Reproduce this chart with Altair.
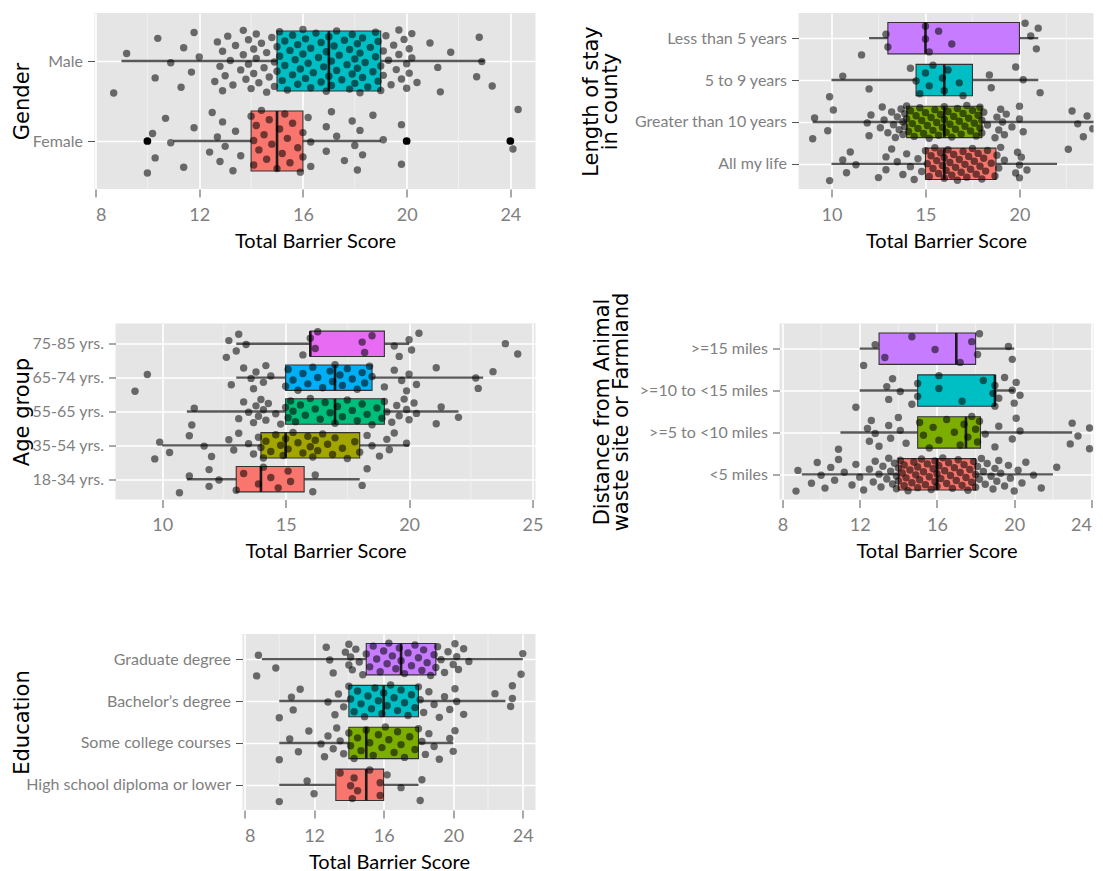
import json
import altair as alt
import pandas as pd

LABEL_FONT = "Lato"
TITLE_FONT = "DejaVu Sans"

HUE2 = ["#F8766D", "#00BFC4"]
HUE4 = ["#F8766D", "#7CAE00", "#00BFC4", "#C77CFF"]
HUE5 = ["#F8766D", "#A3A500", "#00BF7D", "#00B0F6", "#E76BF3"]

# ---------------- Gender ----------------
gender_cats = ["Female", "Male"]
gender_q1 = [14, 15]
gender_med = [15, 17]
gender_q3 = [16, 19]
gender_lo = [11, 9]
gender_hi = [19, 23]
gender_outliers = [10, 20, 24]
gender_female = [10.0, 10.2, 10.3, 10.7, 10.9, 11.4, 11.8, 12.4, 12.5, 12.7, 12.8, 12.9, 13.0,
                 13.3, 13.4, 13.6, 14.0, 14.1, 14.1, 14.2, 14.3, 14.4, 14.5, 14.6, 14.7, 14.8,
                 15.0, 15.1, 15.2, 15.3, 15.4, 15.5, 15.6, 15.8, 15.9, 16.0, 16.0, 16.2, 16.3,
                 16.3, 16.9, 16.9, 17.1, 17.3, 17.6, 17.9, 18.0, 18.1, 18.2, 18.3, 18.7, 19.1,
                 19.8, 19.8, 24.1, 24.3]
gender_male = [8.7, 9.2, 10.3, 10.4, 10.9, 11.3, 11.4, 11.7, 11.8, 12.0, 12.6, 12.7, 12.8, 12.9,
               12.9, 13.0, 13.1, 13.2, 13.3, 13.4, 13.6, 13.7, 13.7, 13.8, 13.9, 13.9, 14.0, 14.1,
               14.1, 14.2, 14.2, 14.3, 14.4, 14.5, 14.6, 14.6, 14.7, 14.8, 14.9, 14.9, 15.0, 15.0,
               15.1, 15.1, 15.2, 15.3, 15.3, 15.4, 15.5, 15.6, 15.6, 15.7, 15.8, 15.8, 15.9, 16.0,
               16.0, 16.1, 16.1, 16.2, 16.3, 16.3, 16.4, 16.5, 16.6, 16.7, 16.7, 16.8, 16.9, 16.9,
               17.0, 17.0, 17.1, 17.1, 17.2, 17.3, 17.3, 17.4, 17.5, 17.6, 17.7, 17.8, 17.8, 17.9,
               17.9, 18.0, 18.0, 18.1, 18.1, 18.2, 18.2, 18.3, 18.3, 18.4, 18.5, 18.6, 18.7, 18.8,
               18.8, 18.9, 18.9, 19.0, 19.0, 19.1, 19.1, 19.2, 19.3, 19.4, 19.5, 19.6, 19.7, 19.7,
               19.8, 19.9, 20.0, 20.0, 20.1, 20.1, 20.2, 20.2, 20.4, 20.9, 21.2, 21.3, 21.7, 22.7,
               22.8, 22.9, 23.3]

# ---------------- Length of stay ----------------
stay_cats = ["All my life", "Greater than 10 years", "5 to 9 years", "Less than 5 years"]
stay_q1 = [15, 14, 14.5, 13]
stay_med = [16, 16, 16, 15]
stay_q3 = [18.75, 18, 17.5, 20]
stay_lo = [10, 9, 10, 12]
stay_hi = [22, 24, 21, 21]
stay_life = [9.9, 10.6, 10.8, 11.0, 11.3, 12.5, 12.9, 12.9, 13.2, 13.5, 13.8, 14.0, 14.2, 14.4,
             14.6, 14.8, 15.0, 15.1, 15.2, 15.3, 15.4, 15.5, 15.6, 15.7, 15.8, 15.9, 16.0, 16.0,
             16.1, 16.2, 16.3, 16.4, 16.5, 16.6, 16.7, 16.8, 16.9, 17.0, 17.1, 17.2, 17.3, 17.4,
             17.5, 17.6, 17.7, 17.8, 17.9, 18.0, 18.1, 18.2, 18.3, 18.5, 18.7, 18.8, 18.9, 19.0,
             19.2, 19.8, 19.9, 20.0, 20.0, 20.1, 20.4, 22.6]
stay_gt10 = [9.0, 9.1, 9.8, 10.1, 11.9, 12.0, 12.1, 12.6, 12.7, 12.8, 13.0, 13.2, 13.3, 13.4, 13.5,
             13.6, 13.7, 13.8, 13.8, 13.9, 13.9, 14.0, 14.0, 14.1, 14.2, 14.3, 14.4, 14.5, 14.6,
             14.7, 14.8, 14.9, 15.0, 15.1, 15.2, 15.3, 15.4, 15.5, 15.6, 15.7, 15.8, 15.9, 16.0,
             16.0, 16.1, 16.2, 16.3, 16.4, 16.5, 16.6, 16.7, 16.8, 16.9, 17.0, 17.1, 17.2, 17.3,
             17.4, 17.5, 17.6, 17.7, 17.8, 17.9, 17.9, 18.0, 18.0, 18.1, 18.3, 18.7, 18.8, 18.9,
             19.0, 19.1, 19.2, 19.3, 19.6, 20.0, 20.0, 20.2, 22.8, 23.1, 23.4, 23.6, 23.9, 24.4]
stay_5to9 = [9.9, 10.6, 12.0, 14.2, 14.5, 14.7, 15.0, 15.2, 15.4, 15.9, 16.0, 16.2, 16.8, 17.0,
             18.4, 18.5, 19.8, 20.2, 21.1]
stay_lt5 = [11.6, 12.9, 13.0, 15.0, 15.0, 15.2, 15.7, 16.4, 20.3, 20.6, 20.9, 21.0]

# ---------------- Age group ----------------
age_cats = ["18-34 yrs.", "35-54 yrs.", "55-65 yrs.", "65-74 yrs.", "75-85 yrs."]
age_q1 = [13, 14, 15, 15, 16]
age_med = [14, 15, 17, 17, 16]
age_q3 = [15.75, 18, 19, 18.5, 19]
age_lo = [11, 10, 11, 13, 13]
age_hi = [18, 20, 22, 23, 20]
age_18 = [10.7, 11.1, 11.9, 11.9, 12.3, 13.0, 13.3, 13.9, 14.1, 14.4, 14.7, 15.1, 15.2, 16.1,
          16.2, 18.1, 18.3]
age_35 = [9.7, 9.9, 10.3, 11.1, 11.7, 12.0, 12.7, 12.9, 13.1, 13.5, 13.7, 13.9, 14.0, 14.1, 14.2,
          14.4, 14.6, 14.8, 14.9, 15.0, 15.1, 15.3, 15.5, 15.7, 15.9, 16.0, 16.1, 16.2, 16.3,
          16.5, 16.7, 16.9, 17.0, 17.3, 17.5, 17.8, 18.0, 18.3, 18.5, 18.8, 19.1, 19.2, 19.4, 19.9]
age_55 = [11.2, 11.3, 13.1, 13.3, 13.5, 13.7, 13.8, 13.9, 14.0, 14.1, 14.2, 14.3, 14.6, 14.8,
          15.0, 15.1, 15.2, 15.3, 15.4, 15.6, 15.8, 16.0, 16.2, 16.4, 16.6, 16.8, 17.0, 17.1,
          17.3, 17.5, 17.7, 17.9, 18.1, 18.3, 18.5, 18.7, 18.9, 19.0, 19.1, 19.3, 19.5, 19.6,
          19.8, 19.9, 20.0, 20.2, 20.3, 21.1, 21.3, 22.0]
age_65 = [8.9, 9.4, 12.8, 13.3, 13.6, 13.7, 13.8, 14.1, 14.2, 14.4, 15.0, 15.1, 15.3, 15.5, 15.7,
          15.9, 16.1, 16.3, 16.5, 16.8, 16.9, 17.0, 17.2, 17.3, 17.5, 17.7, 17.9, 18.1, 18.2,
          18.4, 18.5, 19.0, 19.4, 19.7, 19.9, 20.0, 20.3, 21.1, 22.7, 22.8, 23.4]
age_75 = [12.6, 12.7, 13.0, 13.1, 13.4, 15.7, 16.0, 16.2, 16.3, 18.1, 18.2, 18.5, 19.4, 19.6,
          20.0, 20.1, 20.4, 23.9, 24.4]

# ---------------- Distance ----------------
dist_cats = ["<5 miles", ">=5 to <10 miles", ">=10 to <15 miles", ">=15 miles"]
dist_q1 = [14, 15, 15, 13]
dist_med = [16, 17.5, 19, 17]
dist_q3 = [18, 18.25, 19, 18]
dist_lo = [9, 11, 12, 12]
dist_hi = [22, 23, 20, 20]
dist_lt5 = [8.7, 8.8, 9.5, 9.8, 10.0, 10.2, 10.5, 10.7, 10.9, 11.2, 11.6, 11.8, 12.0, 12.2, 12.5,
            12.7, 12.8, 13.0, 13.1, 13.2, 13.4, 13.5, 13.6, 13.7, 13.8, 13.9, 13.9, 14.0, 14.0,
            14.1, 14.2, 14.3, 14.3, 14.4, 14.5, 14.6, 14.7, 14.8, 14.9, 15.0, 15.0, 15.1, 15.2,
            15.3, 15.4, 15.5, 15.6, 15.7, 15.8, 15.9, 15.9, 16.0, 16.0, 16.1, 16.2, 16.3, 16.4,
            16.5, 16.6, 16.7, 16.8, 16.9, 17.0, 17.1, 17.2, 17.3, 17.4, 17.5, 17.6, 17.7, 17.8,
            17.9, 18.0, 18.0, 18.1, 18.2, 18.3, 18.4, 18.5, 18.6, 18.8, 18.9, 19.0, 19.1, 19.2,
            19.3, 19.5, 19.7, 19.8, 20.0, 20.2, 20.4, 20.6, 21.0, 21.4, 22.2]
dist_5to10 = [10.9, 12.4, 12.5, 12.6, 12.8, 13.0, 13.5, 13.6, 14.0, 14.1, 14.4, 15.1, 15.3, 15.6,
              15.8, 16.1, 16.5, 16.9, 17.2, 17.4, 17.6, 17.8, 18.0, 18.1, 18.2, 18.5, 19.0, 19.2,
              19.9, 20.1, 20.3, 22.9, 23.0, 23.3, 23.9, 23.9]
dist_10to15 = [11.8, 13.4, 13.5, 13.7, 14.1, 14.7, 15.0, 15.0, 16.1, 16.1, 17.3, 18.4, 18.9, 19.0,
               19.0, 19.2, 19.5, 19.9, 20.0, 20.1, 20.3]
dist_ge15 = [12.2, 12.8, 13.3, 14.7, 15.9, 17.2, 17.8, 18.1, 18.2, 19.7, 19.9]

# ---------------- Education ----------------
edu_cats = ["High school diploma or lower", "Some college courses", "Bachelor\u2019s degree",
            "Graduate degree"]
edu_q1 = [13.25, 14, 14, 15]
edu_med = [15, 15, 16, 17]
edu_q3 = [16, 18, 18, 19]
edu_lo = [10, 10, 10, 9]
edu_hi = [18, 20, 23, 24]
edu_hs = [10.0, 11.6, 12.0, 13.5, 14.1, 14.2, 14.3, 14.5, 15.2, 15.8, 15.8, 16.2, 17.0, 18.1, 18.2]
edu_college = [10.0, 10.6, 11.1, 11.7, 12.4, 12.6, 12.8, 13.1, 13.3, 13.5, 13.7, 14.0, 14.1, 14.3,
               14.5, 14.7, 15.0, 15.2, 15.4, 15.7, 15.9, 16.1, 16.3, 16.6, 16.8, 17.0, 17.2, 17.5,
               17.8, 18.0, 18.2, 18.4, 18.6, 18.9, 19.2, 19.8, 20.0, 20.1]
edu_bach = [10.0, 10.7, 10.8, 11.2, 12.8, 13.2, 13.4, 13.7, 14.0, 14.1, 14.3, 14.5, 14.7, 14.9,
            15.1, 15.3, 15.5, 15.7, 15.9, 16.0, 16.2, 16.4, 16.6, 16.8, 17.0, 17.2, 17.4, 17.6,
            17.8, 18.0, 18.1, 18.3, 18.6, 18.9, 19.2, 19.5, 19.8, 20.1, 20.2, 20.6, 22.4, 23.3,
            23.4, 23.4]
edu_grad = [8.7, 8.8, 9.8, 12.7, 12.9, 13.1, 13.8, 14.0, 14.0, 14.1, 14.2, 14.4, 14.6, 14.8, 15.0,
            15.2, 15.4, 15.6, 15.8, 16.0, 16.2, 16.3, 16.5, 16.7, 16.9, 17.0, 17.2, 17.4, 17.6,
            17.8, 18.0, 18.2, 18.3, 18.5, 18.7, 18.9, 19.0, 19.1, 19.3, 19.5, 19.7, 20.0, 20.1,
            20.2, 20.3, 20.6, 20.9, 23.9, 24.0]

XTITLE = "Total Barrier Score"
H = 176
YT_SIZE = 21


def panel(cats, q1, med, q3, lo, hi, points, palette, xdom, xticks, xminor, width,
          ytitle, title_x, outliers=None):
    n = len(cats)
    box = pd.DataFrame({"idx": list(range(n)), "q1": q1, "med": med, "q3": q3,
                        "lo": lo, "hi": hi, "fill": palette[:n]})
    rows = []
    for i, vals in enumerate(points):
        for k, v in enumerate(vals):
            rows.append({"idx": i, "k": k, "x": v})
    pts = pd.DataFrame(rows)

    xs = alt.Scale(domain=xdom, nice=False, zero=False)
    ys = alt.Scale(domain=[-0.6, n - 0.4], nice=False, zero=False)
    xax = alt.Axis(values=xticks, format="d", title=XTITLE, grid=True, gridColor="white",
                   gridWidth=1.6, domain=False, tickSize=8, tickColor="#555555", tickWidth=1,
                   labelPadding=9, labelFont=LABEL_FONT, labelFontSize=18, labelFlush=2.5,
                   labelColor="#7F7F7F", titleFont=LABEL_FONT, titleFontSize=20,
                   titleFontWeight="normal", titleColor="black", titlePadding=7)
    yax = alt.Axis(values=list(range(n)),
                   labelExpr=json.dumps(cats, ensure_ascii=False) + "[datum.value]",
                   labelLimit=400,
                   title=ytitle, titleX=title_x, titleY=H / 2, titleAngle=270,
                   titleAlign="center", titleBaseline="bottom", titleFont=TITLE_FONT,
                   titleFontSize=YT_SIZE, titleFontWeight="normal", titleColor="black",
                   titleLineHeight=19, grid=True, gridColor="white", gridWidth=1.6,
                   domain=False, tickSize=7, tickColor="#555555", labelPadding=5,
                   labelFont=LABEL_FONT, labelFontSize=16, labelColor="#7F7F7F")

    minor = alt.Chart(pd.DataFrame({"m": xminor})).mark_rule(
        color="#F2F2F2", strokeWidth=0.9).encode(x=alt.X("m:Q", scale=xs, axis=xax))
    whisk = alt.Chart(box).mark_rule(color="#595959", strokeWidth=2.4, clip=True).encode(
        x=alt.X("lo:Q", scale=xs, axis=xax), x2="hi:Q",
        y=alt.Y("idx:Q", scale=ys, axis=yax))
    rect = alt.Chart(box).transform_calculate(
        ylo="datum.idx - 0.375", yhi="datum.idx + 0.375").mark_rect(
        stroke="#333333", strokeWidth=1.1).encode(
        x=alt.X("q1:Q", scale=xs, axis=xax), x2="q3:Q",
        y=alt.Y("ylo:Q", scale=ys, axis=yax), y2="yhi:Q",
        fill=alt.Fill("fill:N", scale=None))
    medl = alt.Chart(box).transform_calculate(
        ylo="datum.idx - 0.375", yhi="datum.idx + 0.375").mark_rule(
        color="#1A1A1A", strokeWidth=2.6).encode(
        x=alt.X("med:Q", scale=xs, axis=xax),
        y=alt.Y("ylo:Q", scale=ys, axis=yax), y2="yhi:Q")
    layers = [minor, whisk, rect, medl]
    if outliers:
        odf = pd.DataFrame({"idx": [o[0] for o in outliers], "x": [o[1] for o in outliers]})
        layers.append(alt.Chart(odf).mark_circle(size=60, color="black", opacity=1).encode(
            x=alt.X("x:Q", scale=xs, axis=xax), y=alt.Y("idx:Q", scale=ys, axis=yax)))
    dots = alt.Chart(pts).transform_calculate(
        jy="datum.idx + ((datum.k * 0.618034) % 1 - 0.5) * 0.8").mark_circle(
        size=55, color="black", opacity=0.55, clip=True).encode(
        x=alt.X("x:Q", scale=xs, axis=xax), y=alt.Y("jy:Q", scale=ys, axis=yax))
    layers.append(dots)
    return alt.layer(*layers).properties(width=width, height=H)


def spacer(w):
    return alt.Chart(pd.DataFrame({"a": [0]})).mark_point(opacity=0).properties(
        width=w, height=H, view=alt.ViewBackground(fill="transparent", stroke="transparent"))


TX = 31.5  # right edge of the rotated y titles (left column), page px

p1 = panel(gender_cats, gender_q1, gender_med, gender_q3, gender_lo, gender_hi,
           [gender_female, gender_male], HUE2, [7.96, 24.97], [8, 12, 16, 20, 24],
           [10, 14, 18, 22], 441, "Gender", TX - 94,
           outliers=[(0, v) for v in gender_outliers])
p3 = panel(age_cats, age_q1, age_med, age_q3, age_lo, age_hi,
           [age_18, age_35, age_55, age_65, age_75], HUE5, [8.11, 25.12], [10, 15, 20, 25],
           [12.5, 17.5, 22.5], 420, "Age group", TX - 115)
p5 = panel(edu_cats, edu_q1, edu_med, edu_q3, edu_lo, edu_hi,
           [edu_hs, edu_college, edu_bach, edu_grad], HUE4, [7.885, 24.73],
           [8, 12, 16, 20, 24], [10, 14, 18, 22], 293, "Education", TX - 242)
p2 = panel(stay_cats, stay_q1, stay_med, stay_q3, stay_lo, stay_hi,
           [stay_life, stay_gt10, stay_5to9, stay_lt5], HUE4, [8.245, 23.94], [10, 15, 20],
           [12.5, 17.5, 22.5], 295, ["Length of stay", "in county"], 601 - 798)
p4 = panel(dist_cats, dist_q1, dist_med, dist_q3, dist_lo, dist_hi,
           [dist_lt5, dist_5to10, dist_10to15, dist_ge15], HUE4, [7.845, 24.104],
           [8, 12, 16, 20, 24], [10, 14, 18, 22], 314,
           ["Distance from Animal", "waste site or Farmland"], 612 - 779)

row1 = alt.HConcatChart(hconcat=[p1, spacer(263), p2], spacing=0, bounds="flush")
row2 = alt.HConcatChart(hconcat=[spacer(21), p3, spacer(244), p4], spacing=0, bounds="flush")
row3 = alt.HConcatChart(hconcat=[spacer(148), p5], spacing=0, bounds="flush")
for r in (row1, row2, row3):
    r.resolve = alt.Resolve(scale=alt.ScaleResolveMap(x="independent", y="independent"))

chart = alt.VConcatChart(
    vconcat=[row1, row2, row3], spacing=310.5, bounds="flush",
    padding={"left": TX - YT_SIZE - 8, "top": 4, "right": 0, "bottom": 0},
    background="white",
).resolve_scale(x="independent", y="independent").configure_view(
    fill="#E5E5E5", stroke=None)

chart.save("out.html", embed_options={"renderer": "svg", "actions": False})
